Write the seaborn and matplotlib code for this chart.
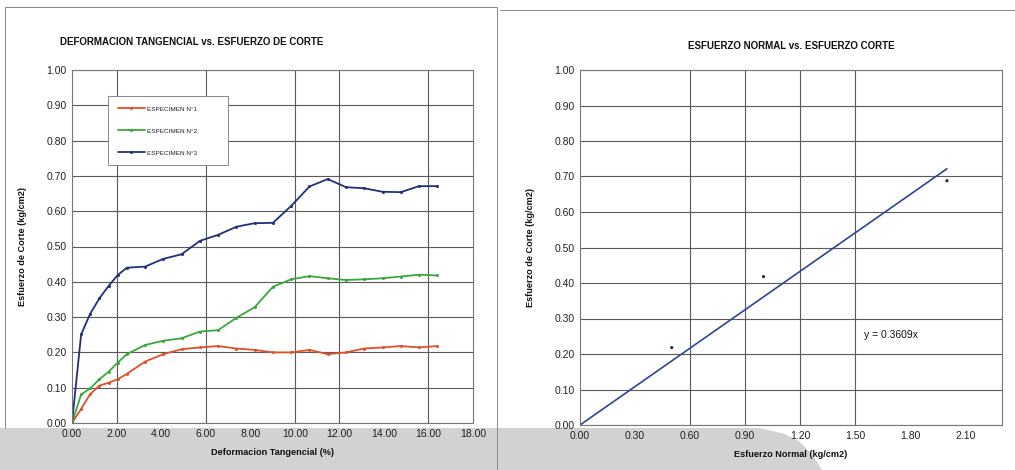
import matplotlib
matplotlib.use('Agg')
import matplotlib.pyplot as plt
from matplotlib.patches import Polygon
from matplotlib.lines import Line2D
import seaborn as sns
import pandas as pd
import numpy as np

sns.set_theme(style='white')
plt.rcParams['font.family'] = ['Liberation Sans', 'DejaVu Sans']

RED   = '#e0502a'
GREEN = '#3aa83a'
BLUE  = '#22307a'
GRID  = '#5a5a5a'

# ── Data ────────────────────────────────────────────────────
deformacion = [0, 0.41, 0.82, 1.23, 1.64, 2.05, 2.46, 3.28, 4.10, 4.92, 5.74,
               6.56, 7.38, 8.20, 9.02, 9.84, 10.66, 11.48, 12.30, 13.12,
               13.94, 14.76, 15.58, 16.40]
esp1 = [0, 0.040, 0.082, 0.106, 0.114, 0.124, 0.139, 0.174, 0.195, 0.209,
        0.214, 0.218, 0.211, 0.207, 0.200, 0.200, 0.207, 0.195, 0.200,
        0.211, 0.214, 0.218, 0.214, 0.218]
esp2 = [0, 0.081, 0.098, 0.124, 0.145, 0.171, 0.195, 0.221, 0.233, 0.240,
        0.259, 0.263, 0.298, 0.328, 0.386, 0.407, 0.416, 0.410, 0.405,
        0.407, 0.410, 0.415, 0.420, 0.418]
esp3 = [0, 0.251, 0.310, 0.353, 0.388, 0.419, 0.440, 0.443, 0.465, 0.478,
        0.516, 0.533, 0.556, 0.566, 0.567, 0.615, 0.670, 0.691, 0.668,
        0.665, 0.655, 0.654, 0.671, 0.671]
especimenes = ['ESPECIMEN N°1', 'ESPECIMEN N°2', 'ESPECIMEN N°3']

esf_normal = [0.50, 1.00, 2.00]
esf_corte  = [0.218, 0.418, 0.688]
pendiente  = 0.3609

df = pd.concat([
    pd.DataFrame({'x': deformacion, 'y': s, 'Especimen': n})
    for s, n in zip([esp1, esp2, esp3], especimenes)
])

# ── Figure ──────────────────────────────────────────────────
fig = plt.figure(figsize=(10.15, 4.70), dpi=100, facecolor='white')

# scanned-page gray band at the bottom
band = Polygon([(0, 0), (0, 42), (760, 42), (785, 36), (800, 28),
                (812, 16), (822, 0)], closed=True, transform=None,
               facecolor='#d2d2d2', edgecolor='none', zorder=-5)
fig.patches.append(band)

# page frame lines
for seg in [((5, 497), (463, 463)), ((5, 5), (463, 42)),
            ((497, 497), (463, 0)), ((500, 1015), (460, 460))]:
    fig.add_artist(Line2D(np.array(seg[0]) / 1015, np.array(seg[1]) / 470,
                          color='#888888', lw=0.7, zorder=-4))

def style_ax(ax):
    ax.set_zorder(2)
    ax.set_facecolor('white')
    for sp in ax.spines.values():
        sp.set_edgecolor('#777777')
        sp.set_linewidth(0.8)
    ax.grid(axis='y', color=GRID, lw=0.8)
    ax.set_axisbelow(True)
    ax.tick_params(axis='both', labelsize=7.5, length=0, pad=4, colors='#222222')
    ax.set_ylim(0, 1.0)
    ax.set_yticks(np.arange(0, 1.01, 0.1))
    ax.set_yticklabels([f'{v:.2f}' for v in np.arange(0, 1.01, 0.1)])

def labels(ax, xlab, ylab):
    ax.set_xlabel(xlab, fontsize=6.6, fontweight='bold', labelpad=7, color='#111111')
    ax.set_ylabel(ylab, fontsize=6.6, fontweight='bold', labelpad=14, color='#111111')

# ── Left: deformacion vs esfuerzo ───────────────────────────
ax1 = fig.add_axes([72 / 1015, 47 / 470, 401 / 1015, 353 / 470])
style_ax(ax1)
ax1.set_xlim(0, 18)
xt = np.arange(0, 18.01, 2)
ax1.set_xticks(xt)
ax1.set_xticklabels([f'{v:.2f}' for v in xt])
for v in [2, 6, 10, 12, 16]:
    ax1.axvline(v, color=GRID, lw=0.8, zorder=0.5)

sns.lineplot(data=df, x='x', y='y', hue='Especimen', sort=False,
             palette=[RED, GREEN, BLUE], marker='o', markersize=2.2,
             markeredgewidth=0, lw=1.3, ax=ax1)
labels(ax1, 'Deformacion Tangencial (%)', 'Esfuerzo de Corte (kg/cm2)')
leg = ax1.legend(loc='upper left', bbox_to_anchor=(0.09, 0.739, 0.30, 0.186),
                 mode='expand', fontsize=4.6,
                 frameon=True, fancybox=False, framealpha=1, edgecolor='#888888',
                 handlelength=4.2, labelspacing=2.6, borderpad=1.5,
                 borderaxespad=0, handletextpad=0.4)
leg.get_frame().set_linewidth(0.7)
for t in leg.get_texts():
    t.set_color('#222222')
ax1.text(-0.03, 1.065, 'DEFORMACION TANGENCIAL vs. ESFUERZO DE CORTE',
         transform=ax1.transAxes, fontsize=7, fontweight='bold', ha='left',
         va='bottom', color='#111111')

# ── Right: esfuerzo normal vs esfuerzo corte ────────────────
ax2 = fig.add_axes([580 / 1015, 45 / 470, 422 / 1015, 355 / 470])
style_ax(ax2)
ax2.set_xlim(0, 2.3)
xt2 = np.arange(0, 2.11, 0.3)
ax2.set_xticks(xt2)
ax2.set_xticklabels([f'{v:.2f}' for v in xt2])
for v in [0.6, 0.9, 1.2, 1.5]:
    ax2.axvline(v, color=GRID, lw=0.8, zorder=0.5)

xfit = np.array([0, max(esf_normal)])
sns.lineplot(x=xfit, y=pendiente * xfit, color='#2c4596', lw=1.2, ax=ax2)
sns.scatterplot(x=esf_normal, y=esf_corte, color='#222222', s=5,
                edgecolor='none', ax=ax2, zorder=3)
ax2.text(1.55, 0.245, f'y = {pendiente}x', fontsize=7.5, color='#111111')
labels(ax2, 'Esfuerzo Normal (kg/cm2)', 'Esfuerzo de Corte (kg/cm2)')
ax2.set_title('ESFUERZO NORMAL vs. ESFUERZO CORTE', fontsize=7,
              fontweight='bold', pad=15, color='#111111')

plt.savefig('out.png', dpi=100, facecolor='white')
